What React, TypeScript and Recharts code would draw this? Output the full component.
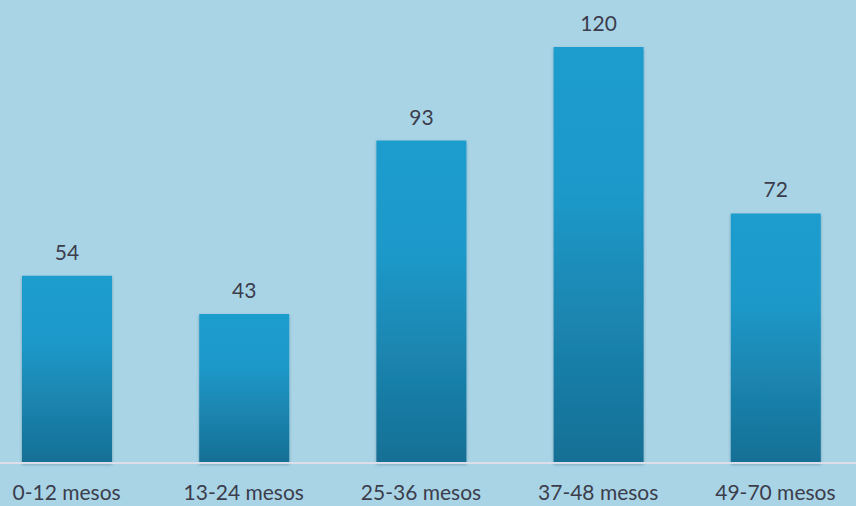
import React from "react";
import { BarChart, Bar, XAxis, YAxis, LabelList } from "recharts";

const categories = ["0-12 mesos", "13-24 mesos", "25-36 mesos", "37-48 mesos", "49-70 mesos"];
const values = [54, 43, 93, 120, 72];

const data = categories.map((c, i) => ({ name: c, value: values[i] }));

export default function App() {
  return (
    <div style={{ position: "absolute", left: 0, top: 0, width: 856, height: 506, overflow: "hidden", background: "#a9d4e6" }}>
      <div style={{ marginLeft: -22 }}>
        <BarChart width={886} height={506} data={data} margin={{ top: 47, right: 0, bottom: 0, left: 0 }} barSize={90}>
          <defs>
            <linearGradient id="barGrad" x1="0" y1="0" x2="0" y2="1">
              <stop offset="0%" stopColor="#1f9dce" />
              <stop offset="35%" stopColor="#1e99c9" />
              <stop offset="100%" stopColor="#166f94" />
            </linearGradient>
            <filter id="barShadow" x="-10%" y="-5%" width="120%" height="110%">
              <feDropShadow dx="0" dy="1.5" stdDeviation="1.5" floodColor="#1b3a55" floodOpacity="0.35" />
            </filter>
          </defs>
          <YAxis hide domain={[0, 120]} />
          <XAxis
            dataKey="name"
            height={43}
            axisLine={{ stroke: "#dcdfe9", strokeWidth: 2 }}
            tickLine={false}
            tick={{ fill: "#3b3d4c", fontSize: 21, fontFamily: "Lato, sans-serif" }}
            tickMargin={16}
          />
          <Bar dataKey="value" fill="url(#barGrad)" isAnimationActive={false} style={{ filter: "url(#barShadow)" }}>
            <LabelList dataKey="value" position="top" offset={16} fill="#3b3d4c" fontSize={21} fontFamily="Lato, sans-serif" />
          </Bar>
        </BarChart>
      </div>
    </div>
  );
}
